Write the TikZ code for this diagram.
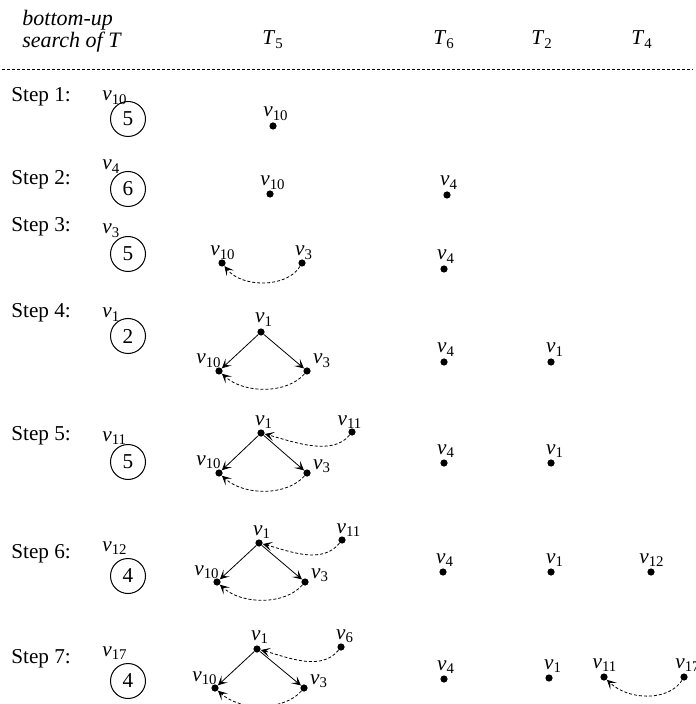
\documentclass[tikz,border=0pt]{standalone}
\usepackage{fontspec}
\setmainfont{Liberation Serif}
\usetikzlibrary{arrows.meta}
\newcommand\vv[1]{\textit{v}\textsubscript{#1}}
\newcommand\Tsub[1]{\textit{T}\textsubscript{#1}}
\newcommand\vdot[6]{\node[dot] (#1) at (#2,#3) {}; \node[lab] (#1-l) at (#4,#5) {\vv{#6}};}
\newcommand\steprow[7]{%
  \node[steplab] (s#1) at (11,#2) {Step #1:};
  \node[keylab] (k#1-l) at (102,#4) {\vv{#5}};
  \node[keyc] (k#1) at (128,#3) {#6};}
\begin{document}
\begin{tikzpicture}[x=0.5pt,y=-0.5pt,
  every node/.style={font=\fontsize{10.6}{12.6}\selectfont},
  dot/.style={circle,fill,inner sep=0pt,minimum size=3.6pt},
  lab/.style={anchor=base,inner sep=0pt},
  keylab/.style={anchor=base west,inner sep=0pt},
  steplab/.style={anchor=base west,inner sep=0pt},
  keyc/.style={circle,draw,line width=0.5pt,minimum size=17.5pt,inner sep=0pt},
  tip/.style={-{Stealth[length=4.6pt,width=4.6pt,inset=2.3pt]}},
  treeedge/.style={tip,line width=0.4pt},
  backarc/.style={tip,line width=0.4pt,dash pattern=on 1.5pt off 1pt},
]
\useasboundingbox (0,0) rectangle (695,704);

% header
\node[anchor=base west,inner sep=0pt,font=\fontsize{11}{13}\selectfont\itshape] (h1) at (22,26) {bottom-up};
\node[anchor=base west,inner sep=0pt,font=\fontsize{11}{13}\selectfont\itshape] (h2) at (22,48) {search of \textit{T}};
\node[anchor=base west,inner sep=0pt] (t5) at (262,45) {\Tsub{5}};
\node[anchor=base west,inner sep=0pt] (t6) at (433,45) {\Tsub{6}};
\node[anchor=base west,inner sep=0pt] (t2) at (531,45) {\Tsub{2}};
\node[anchor=base west,inner sep=0pt] (t4) at (631,45) {\Tsub{4}};
\coordinate (hl) at (2,69);
\coordinate (hr) at (693,69);
\draw[line width=0.4pt,dash pattern=on 1.5pt off 1pt] (hl) -- (hr);

% step labels and key circles
\steprow{1}{102}{119}{101}{10}{5}{}
\steprow{2}{185}{189}{170}{4}{6}{}
\steprow{3}{232}{254}{234}{3}{5}{}
\steprow{4}{318}{336}{318}{1}{2}{}
\steprow{5}{440}{462}{441}{11}{5}{}
\steprow{6}{558}{576}{551}{12}{4}{}
\steprow{7}{663}{681}{656}{17}{4}{}

% Step 1
\vdot{a1}{273}{126}{276}{117}{10}
% Step 2
\vdot{b1}{270}{194}{273}{186}{10}
\vdot{b2}{447}{195}{449}{186}{4}
% Step 3
\vdot{c1}{222}{263}{223}{256}{10}
\vdot{c2}{302}{263}{304}{256}{3}
\vdot{c3}{444}{269}{446}{260}{4}
\draw[backarc] (c2) .. controls +(-15,25) and +(20,25) .. (c1);
% Step 4
\vdot{d1}{261}{332}{264}{323}{1}
\vdot{d2}{219}{371}{209}{364}{10}
\vdot{d3}{307}{371}{322}{364}{3}
\vdot{d4}{444}{362}{446}{353}{4}
\vdot{d5}{551}{362}{555}{353}{1}
\draw[treeedge] (d1) -- (d2);
\draw[treeedge] (d1) -- (d3);
\draw[backarc] (d3) .. controls +(-20,23) and +(25,23) .. (d2);
% Step 5
\vdot{e1}{261}{433}{264}{425}{1}
\vdot{e2}{352}{432}{350}{425}{11}
\vdot{e3}{219}{473}{209}{465}{10}
\vdot{e4}{307}{473}{322}{469}{3}
\vdot{e5}{444}{463}{446}{454}{4}
\vdot{e6}{551}{463}{555}{454}{1}
\draw[treeedge] (e1) -- (e3);
\draw[treeedge] (e1) -- (e4);
\draw[backarc] (e4) .. controls +(-20,23) and +(25,23) .. (e3);
\draw[backarc] (e2) .. controls +(-20,25) and +(30,8) .. (e1);
% Step 6
\vdot{f1}{259}{543}{262}{535}{1}
\vdot{f2}{342}{540}{349}{533}{11}
\vdot{f3}{217}{582}{207}{575}{10}
\vdot{f4}{305}{582}{320}{578}{3}
\vdot{f5}{443}{572}{445}{563}{4}
\vdot{f6}{551}{572}{555}{563}{1}
\vdot{f7}{651}{572}{652}{563}{12}
\draw[treeedge] (f1) -- (f3);
\draw[treeedge] (f1) -- (f4);
\draw[backarc] (f4) .. controls +(-20,23) and +(25,23) .. (f3);
\draw[backarc] (f2) .. controls +(-20,25) and +(30,8) .. (f1);
% Step 7
\vdot{g1}{257}{649}{260}{640}{1}
\vdot{g2}{341}{647}{345}{639}{6}
\vdot{g3}{215}{688}{205}{681}{10}
\vdot{g4}{304}{688}{319}{684}{3}
\vdot{g5}{444}{679}{446}{670}{4}
\vdot{g6}{549}{678}{553}{669}{1}
\vdot{g7}{604}{677}{605}{668}{11}
\vdot{g8}{684}{677}{688}{668}{17}
\draw[treeedge] (g1) -- (g3);
\draw[treeedge] (g1) -- (g4);
\draw[backarc] (g4) .. controls +(-20,23) and +(25,23) .. (g3);
\draw[backarc] (g2) .. controls +(-20,25) and +(30,8) .. (g1);
\draw[backarc] (g8) .. controls +(-15,24) and +(25,24) .. (g7);
\end{tikzpicture}
\end{document}
